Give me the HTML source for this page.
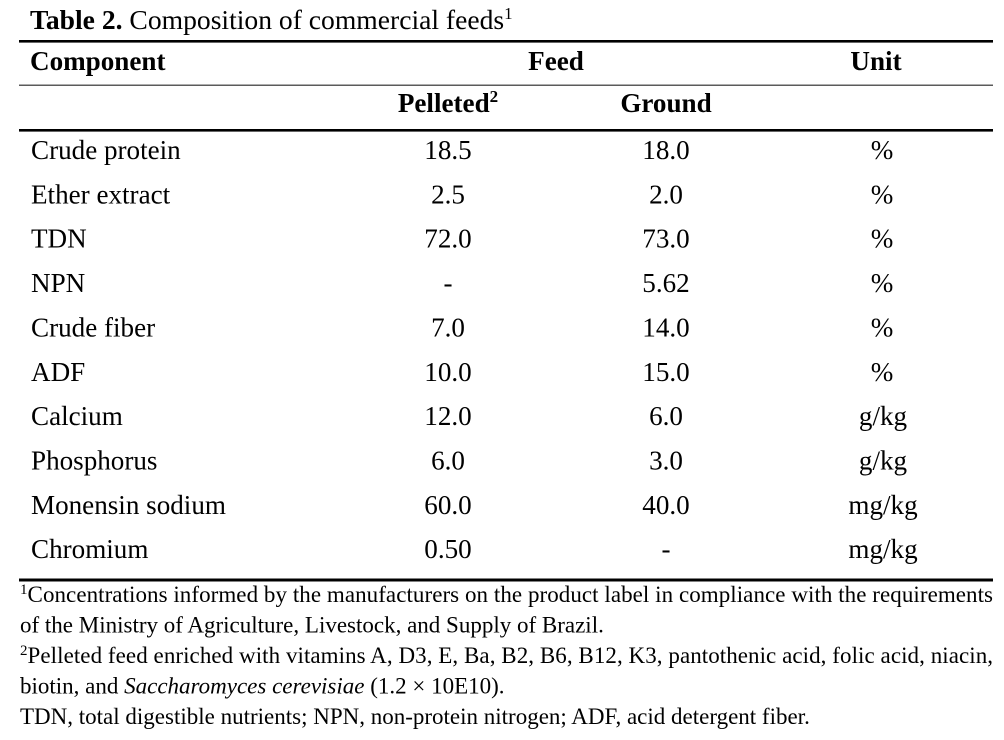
<!DOCTYPE html>
<html>
<head>
<meta charset="utf-8">
<style>
  html, body { margin: 0; padding: 0; background: #ffffff; }
  body { width: 1004px; height: 740px; overflow: hidden; }
  svg { display: block; }
  text { font-family: "Liberation Serif", "Times New Roman", serif; fill: #000; }
</style>
</head>
<body>
<svg width="1004" height="740" viewBox="0 0 1004 740" xmlns="http://www.w3.org/2000/svg">
  <rect x="0" y="0" width="1004" height="740" fill="#ffffff"/>

  <!-- Title -->
  <text x="30" y="29" font-size="27.6"><tspan font-weight="bold">Table 2.</tspan> Composition of commercial feeds<tspan font-size="17" dy="-10">1</tspan></text>

  <!-- Rules -->
  <rect x="19" y="40" width="974" height="2.6" fill="#000"/>
  <rect x="19" y="84.6" width="974" height="1.2" fill="#333"/>
  <rect x="19" y="129" width="974" height="2.6" fill="#000"/>
  <rect x="19" y="578.5" width="974" height="3" fill="#000"/>

  <!-- Header row 1 -->
  <g font-size="27.1" font-weight="bold">
    <text x="30" y="70">Component</text>
    <text x="556" y="70" text-anchor="middle">Feed</text>
    <text x="876" y="70" text-anchor="middle">Unit</text>
  </g>

  <!-- Header row 2 -->
  <g font-size="27.1" font-weight="bold">
    <text x="448" y="112" text-anchor="middle">Pelleted<tspan font-size="17" dy="-10">2</tspan></text>
    <text x="666" y="112" text-anchor="middle">Ground</text>
  </g>

  <!-- Data rows -->
  <g font-size="27.1">
    <text x="31" y="159">Crude protein</text>
    <text x="448" y="159" text-anchor="middle">18.5</text>
    <text x="666" y="159" text-anchor="middle">18.0</text>
    <text x="882" y="159" text-anchor="middle">%</text>

    <text x="31" y="203.4">Ether extract</text>
    <text x="448" y="203.4" text-anchor="middle">2.5</text>
    <text x="666" y="203.4" text-anchor="middle">2.0</text>
    <text x="882" y="203.4" text-anchor="middle">%</text>

    <text x="31" y="247.7">TDN</text>
    <text x="448" y="247.7" text-anchor="middle">72.0</text>
    <text x="666" y="247.7" text-anchor="middle">73.0</text>
    <text x="882" y="247.7" text-anchor="middle">%</text>

    <text x="31" y="292">NPN</text>
    <text x="448" y="292" text-anchor="middle">-</text>
    <text x="666" y="292" text-anchor="middle">5.62</text>
    <text x="882" y="292" text-anchor="middle">%</text>

    <text x="31" y="336.4">Crude fiber</text>
    <text x="448" y="336.4" text-anchor="middle">7.0</text>
    <text x="666" y="336.4" text-anchor="middle">14.0</text>
    <text x="882" y="336.4" text-anchor="middle">%</text>

    <text x="31" y="380.8">ADF</text>
    <text x="448" y="380.8" text-anchor="middle">10.0</text>
    <text x="666" y="380.8" text-anchor="middle">15.0</text>
    <text x="882" y="380.8" text-anchor="middle">%</text>

    <text x="31" y="425.1">Calcium</text>
    <text x="448" y="425.1" text-anchor="middle">12.0</text>
    <text x="666" y="425.1" text-anchor="middle">6.0</text>
    <text x="883" y="425.1" text-anchor="middle">g/kg</text>

    <text x="31" y="469.5">Phosphorus</text>
    <text x="448" y="469.5" text-anchor="middle">6.0</text>
    <text x="666" y="469.5" text-anchor="middle">3.0</text>
    <text x="883" y="469.5" text-anchor="middle">g/kg</text>

    <text x="31" y="513.8">Monensin sodium</text>
    <text x="448" y="513.8" text-anchor="middle">60.0</text>
    <text x="666" y="513.8" text-anchor="middle">40.0</text>
    <text x="883" y="513.8" text-anchor="middle">mg/kg</text>

    <text x="31" y="558.2">Chromium</text>
    <text x="448" y="558.2" text-anchor="middle">0.50</text>
    <text x="666" y="558.2" text-anchor="middle">-</text>
    <text x="883" y="558.2" text-anchor="middle">mg/kg</text>
  </g>

  <!-- Footnotes -->
  <g font-size="23">
    <text x="20" y="602" textLength="973" lengthAdjust="spacing"><tspan font-size="15" dy="-8">1</tspan><tspan dy="8">Concentrations informed by the manufacturers on the product label in compliance with the requirements</tspan></text>
    <text x="20" y="632.5">of the Ministry of Agriculture, Livestock, and Supply of Brazil.</text>
    <text x="20" y="663" textLength="973" lengthAdjust="spacing"><tspan font-size="15" dy="-8">2</tspan><tspan dy="8">Pelleted feed enriched with vitamins A, D3, E, Ba, B2, B6, B12, K3, pantothenic acid, folic acid, niacin,</tspan></text>
    <text x="20" y="693.5">biotin, and <tspan font-style="italic">Saccharomyces cerevisiae</tspan> (1.2 × 10E10).</text>
    <text x="20" y="724">TDN, total digestible nutrients; NPN, non-protein nitrogen; ADF, acid detergent fiber.</text>
  </g>
</svg>
</body>
</html>
